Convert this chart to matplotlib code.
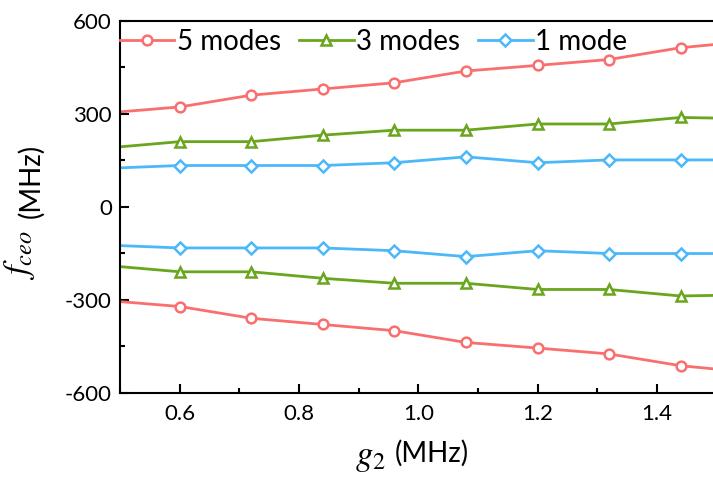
import matplotlib
matplotlib.use("Agg")
import matplotlib.pyplot as plt
from matplotlib.ticker import MultipleLocator
from matplotlib.transforms import IdentityTransform

# g2 values (MHz); first and last points sit just outside the visible range
g2 = [0.48, 0.60, 0.72, 0.84, 0.96, 1.08, 1.20, 1.32, 1.44, 1.56]

five_pos = [303, 322, 360, 380, 400, 438, 456, 475, 513, 535]
five_neg = [-303, -322, -360, -380, -400, -438, -456, -475, -513, -535]
three_pos = [190, 210, 210, 231, 247, 247, 267, 267, 288, 284]
three_neg = [-190, -210, -210, -231, -247, -247, -267, -267, -288, -284]
one_pos = [124, 133, 133, 133, 142, 161, 142, 151, 151, 151]
one_neg = [-124, -133, -133, -133, -142, -161, -142, -151, -151, -151]

labels = ["5 modes", "3 modes", "1 mode"]
colors = ["#F96F6F", "#6AA51E", "#4CB8F9"]
markers = ["o", "^", "D"]

plt.rcParams.update({
    "font.family": ["Lato", "DejaVu Sans"],
    "mathtext.fontset": "stix",
    "axes.unicode_minus": False,
    "font.size": 16,
})

W, H = 713, 483
fig = plt.figure(figsize=(W / 100, H / 100), dpi=100)
ax = fig.add_axes([0.1687, 0.187, 0.836, 0.770])

series = [(five_pos, five_neg), (three_pos, three_neg), (one_pos, one_neg)]
for (pos, neg), lab, c, m in zip(series, labels, colors, markers):
    msize = 6 if m == "D" else 7
    style = dict(color=c, lw=2.0, marker=m, markersize=msize,
                 markerfacecolor="white", markeredgecolor=c, markeredgewidth=1.8)
    ax.plot(g2, pos, label=lab, **style)
    ax.plot(g2, neg, **style)

ax.set_xlim(0.5, 1.5)
ax.set_ylim(-600, 600)
ax.xaxis.set_major_locator(MultipleLocator(0.2))
ax.xaxis.set_minor_locator(MultipleLocator(0.1))
ax.yaxis.set_major_locator(MultipleLocator(300))
ax.yaxis.set_minor_locator(MultipleLocator(150))
ax.tick_params(which="both", direction="in", width=1.5, labelsize=16)
ax.tick_params(which="major", length=6.5)
ax.tick_params(which="minor", length=3.5)
ax.tick_params(axis="x", which="major", pad=8)
ax.tick_params(axis="y", which="major", pad=6)
for s in ax.spines.values():
    s.set_linewidth(1.5)
ax.spines["right"].set_visible(False)

# axis labels: math symbol set larger than the unit text,
# each piece anchored at its baseline start (pixel coords, origin bottom-left)
px = IdentityTransform()
base = dict(transform=px, ha="left", va="baseline")
vert = dict(rotation=90, rotation_mode="anchor")

fig.text(28, H - 280, r"$f_{ceo}$", fontsize=25, **vert, **base)
fig.text(39, H - 218, "(MHz)", fontsize=20, **vert, **base)

fig.text(355, H - 465, r"$g_2$", fontsize=25, **base)
fig.text(395, H - 462, "(MHz)", fontsize=20, **base)

ax.legend(loc="center left", bbox_to_anchor=(0.0, 0.943), ncol=3, frameon=False,
          fontsize=20, handlelength=1.95, handletextpad=0.1, columnspacing=0.65,
          borderpad=0, borderaxespad=0)

fig.savefig("out.png", dpi=100)
